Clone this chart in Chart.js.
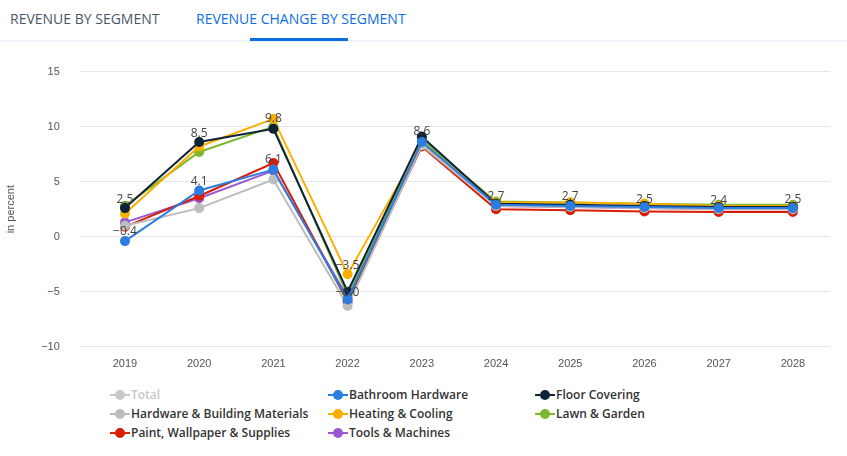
<!DOCTYPE html>
<html>
<head>
<meta charset="utf-8">
<script src="https://cdn.jsdelivr.net/npm/chart.js@4/dist/chart.umd.min.js"></script>
<style>
body { margin: 0; background: #fff; font-family: "Open Sans", "Noto Sans", sans-serif; }
.tabs { position: absolute; left: 0; top: 0; width: 847px; height: 40px; border-bottom: 2px solid #f0f4f8; }
.tab { position: absolute; top: 9px; font-size: 14px; color: #4a5568; }
.tab.active { color: #0b6fe3; }
.bar { position: absolute; left: 250px; top: 38px; width: 98px; height: 3px; background: #0b6fe3; }
#wrap { position: absolute; left: 0; top: 45px; width: 847px; height: 329px; }
.legend { position: absolute; top: 386px; left: 0; font-size: 12px; color: #333; font-weight: 600; }
.item { position: absolute; white-space: nowrap; }
.dot { display: inline-block; width: 10px; height: 10px; border-radius: 50%; margin-right: 6px; vertical-align: -1px; position: relative; }
.dot::before { content: ""; position: absolute; left: -5px; top: 4px; width: 20px; height: 2px; background: inherit; }
.item.off { color: #c8c8c8; }
</style>
</head>
<body>
<div class="tabs">
  <div class="tab" style="left:10px">REVENUE BY SEGMENT</div>
  <div class="tab active" style="left:196px">REVENUE CHANGE BY SEGMENT</div>
  <div class="bar"></div>
</div>
<div id="wrap"><canvas id="chart"></canvas></div>
<div class="legend" id="legend"></div>
<script>
// Revenue change by segment, in percent
const years = ['2019', '2020', '2021', '2022', '2023', '2024', '2025', '2026', '2027', '2028'];
const total = [2.5, 4.1, 6.1, -6.0, 8.6, 2.7, 2.7, 2.5, 2.4, 2.5];
const bathroom = [-0.4, 4.2, 6.1, -5.7, 8.6, 2.9, 2.8, 2.7, 2.6, 2.6];
const floorCovering = [2.6, 8.6, 9.8, -5.0, 9.1, 3.0, 2.9, 2.8, 2.7, 2.7];
const hardware = [1.0, 2.6, 5.2, -6.3, 8.3, 2.8, 2.7, 2.6, 2.5, 2.5];
const heating = [2.1, 8.2, 10.7, -3.4, 8.5, 3.1, 3.1, 3.0, 2.8, 2.8];
const lawn = [2.8, 7.7, 10.0, -5.3, 8.8, 3.2, 3.1, 3.0, 2.9, 2.9];
const paint = [0.9, 3.7, 6.7, -5.9, 8.2, 2.5, 2.4, 2.3, 2.25, 2.25];
const tools = [1.3, 3.5, 6.0, -5.5, 8.9, 2.8, 2.7, 2.6, 2.5, 2.5];
const pointLabels = ['2.5', '8.5', '9.8', '\u22123.5', '8.6', '2.7', '2.7', '2.5', '2.4', '2.5'];
const labelValues = [2.5, 8.5, 9.8, -3.5, 8.6, 2.7, 2.7, 2.5, 2.4, 2.5];
const extraLabels = [['\u22120.4', 0, -0.4], ['4.1', 1, 4.1], ['6.1', 2, 6.1], ['\u22126.0', 3, -6.0]];
const yTicks = [-10, -5, 0, 5, 10, 15];

const series = [
  { label: 'Total', data: total, color: '#c8c8c8', hidden: true },
  { label: 'Bathroom Hardware', data: bathroom, color: '#2b7de0' },
  { label: 'Floor Covering', data: floorCovering, color: '#0f2338' },
  { label: 'Hardware & Building Materials', data: hardware, color: '#bdbdbd' },
  { label: 'Heating & Cooling', data: heating, color: '#fbb000' },
  { label: 'Lawn & Garden', data: lawn, color: '#7cb82f' },
  { label: 'Paint, Wallpaper & Supplies', data: paint, color: '#d81e05' },
  { label: 'Tools & Machines', data: tools, color: '#9b59d0' }
];

// Draw value labels above points
const labelPlugin = {
  id: 'labels',
  afterDatasetsDraw(chart) {
    const ctx = chart.ctx;
    const x = chart.scales.x, y = chart.scales.y;
    ctx.save();
    ctx.font = '12px "Open Sans", sans-serif';
    ctx.fillStyle = '#444';
    ctx.textAlign = 'center';
    ctx.textBaseline = 'bottom';
    pointLabels.forEach(function(t, i) {
      ctx.fillText(t, x.getPixelForValue(i), y.getPixelForValue(labelValues[i]) - 4);
    });
    extraLabels.forEach(function(l) {
      ctx.fillText(l[0], x.getPixelForValue(l[1]), y.getPixelForValue(l[2]) - 4);
    });
    ctx.restore();
  }
};

new Chart(document.getElementById('chart'), {
  type: 'line',
  data: {
    labels: years,
    datasets: series.map(function(s) {
      return {
        label: s.label, data: s.data, hidden: !!s.hidden,
        borderColor: s.color, backgroundColor: s.color,
        borderWidth: 2, pointRadius: 4, pointHoverRadius: 5, tension: 0
      };
    })
  },
  options: {
    responsive: true,
    maintainAspectRatio: false,
    animation: false,
    layout: { padding: { left: 0, right: 17, top: 0, bottom: 0 } },
    plugins: { legend: { display: false }, tooltip: { enabled: false } },
    scales: {
      x: {
        offset: true,
        grid: { display: false },
        border: { display: false },
        ticks: { color: '#555', font: { size: 11 } }
      },
      y: {
        min: -10, max: 15,
        afterBuildTicks: function(axis) { axis.ticks = yTicks.map(function(v) { return { value: v }; }); },
        grid: { color: '#e6e6e6' },
        border: { display: false },
        ticks: {
          color: '#555', font: { size: 11 }, padding: 20,
          callback: function(v) { return v < 0 ? '\u2212' + Math.abs(v) : String(v); }
        },
        title: { display: true, text: 'in percent', color: '#555', font: { size: 11 } }
      }
    }
  },
  plugins: [labelPlugin]
});

// HTML legend in three columns
const cols = [115, 333, 540];
const legend = document.getElementById('legend');
series.forEach(function(s, i) {
  const el = document.createElement('div');
  el.className = 'item' + (s.hidden ? ' off' : '');
  el.style.left = cols[i % 3] + 'px';
  el.style.top = (Math.floor(i / 3) * 19) + 'px';
  el.innerHTML = '<span class="dot" style="background:' + s.color + '"></span>' + s.label;
  legend.appendChild(el);
});
</script>
</body>
</html>
